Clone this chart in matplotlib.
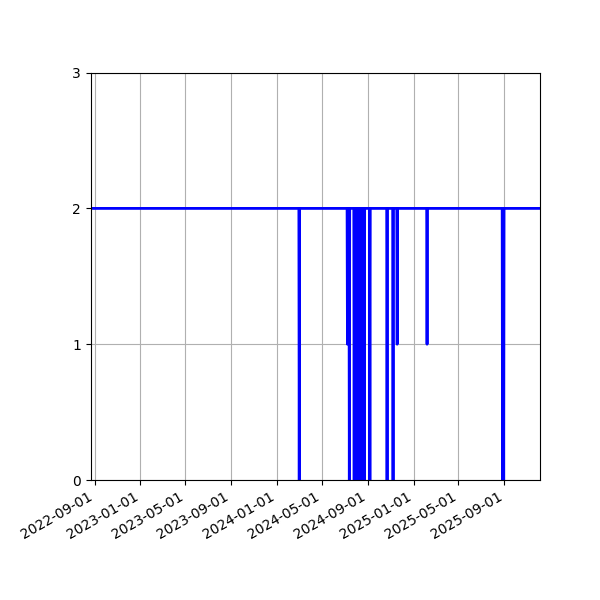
import pandas as pd
import matplotlib
matplotlib.use("Agg")
import matplotlib.pyplot as plt
import matplotlib.dates as mdates

start_date = "2022-08-21"
end_date = "2025-12-06"
baseline = 2

dip_dates = ["2024-03-01", "2024-07-08", "2024-07-13",
             "2024-07-26", "2024-07-28", "2024-07-30", "2024-08-01",
             "2024-08-03", "2024-08-05", "2024-08-07", "2024-08-09",
             "2024-08-11", "2024-08-13", "2024-08-15",
             "2024-08-22", "2024-09-06",
             "2024-10-22", "2024-11-07", "2024-11-18", "2025-02-06",
             "2025-08-27", "2025-08-30"]
dip_values = [0, 1, 0,
              0, 0, 0, 0,
              0, 0, 0, 0,
              0, 0, 0,
              0, 0,
              0, 0, 1, 1,
              0, 0]

days = pd.date_range(start_date, end_date, freq="D")
series = pd.Series(baseline, index=days)
for d, v in zip(pd.to_datetime(dip_dates), dip_values):
    series[d] = v

fig = plt.figure(figsize=(6, 6), dpi=100)
ax = fig.add_axes([0.1512, 0.2, 0.7493, 0.679])
ax.plot(series.index, series.values, color='blue', linewidth=2)

ax.set_xlim(pd.Timestamp(start_date), pd.Timestamp(end_date))
ax.set_ylim(0, 3)
ax.set_yticks([0, 1, 2, 3])
ax.xaxis.set_major_locator(mdates.MonthLocator(bymonth=[1, 5, 9]))
ax.xaxis.set_major_formatter(mdates.DateFormatter('%Y-%m-%d'))
ax.grid(True)
for lbl in ax.get_xticklabels():
    lbl.set_rotation(30)
    lbl.set_ha('right')

fig.savefig("out.png", dpi=100)
